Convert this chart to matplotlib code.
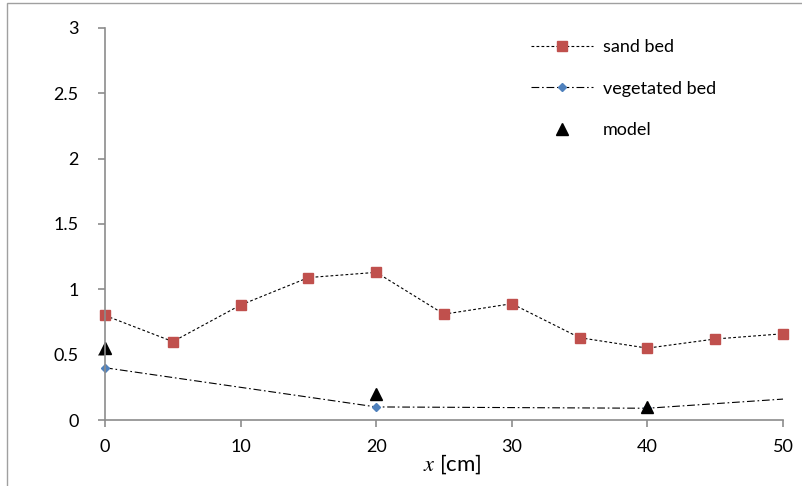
import matplotlib
matplotlib.use("Agg")
import matplotlib.pyplot as plt
from matplotlib.patches import Rectangle

# data
sand_x = [0, 5, 10, 15, 20, 25, 30, 35, 40, 45, 50]
sand_y = [0.80, 0.60, 0.88, 1.09, 1.13, 0.81, 0.89, 0.63, 0.55, 0.62, 0.66]

veg_x = [0, 20, 40, 50]
veg_y = [0.40, 0.10, 0.09, 0.16]

model_x = [0, 20, 40]
model_y = [0.55, 0.20, 0.10]

x_ticks = [0, 10, 20, 30, 40, 50]
y_ticks = [0, 0.5, 1, 1.5, 2, 2.5, 3]
y_tick_labels = ["0", "0.5", "1", "1.5", "2", "2.5", "3"]

plt.rcParams['font.family'] = ['Lato', 'DejaVu Sans']
plt.rcParams['mathtext.fontset'] = 'stix'

fig = plt.figure(figsize=(8.03, 4.86), dpi=100)
ax = fig.add_axes([0.1308, 0.1358, 0.8443, 0.8066])

# chart frame (only left and top edges visible in the crop)
fig.patches.append(Rectangle((7 / 803, -0.1), 1.2, 1 - 3 / 486 + 0.1,
                             transform=fig.transFigure, fill=False,
                             edgecolor='#a0a0a0', linewidth=1.0))

ax.plot(sand_x, sand_y, color='black', linewidth=0.8, linestyle=(0, (2.5, 2)),
        marker='s', markersize=6.5, markerfacecolor='#C0504D',
        markeredgecolor='#C0504D', label='sand bed', clip_on=False)
ax.plot(veg_x, veg_y, color='black', linewidth=0.8,
        linestyle=(0, (7, 2.5, 1.5, 2.5)), marker='D', markersize=4.5,
        markerfacecolor='#4F81BD', markeredgecolor='#4F81BD',
        markevery=[0, 1, 2], label='vegetated bed', clip_on=False)
ax.plot(model_x, model_y, linestyle='none', marker='^', markersize=8.5,
        color='black', label='model', clip_on=False)

ax.set_xlim(0, 50)
ax.set_ylim(0, 3)
ax.set_xticks(x_ticks)
ax.set_yticks(y_ticks)
ax.set_yticklabels(y_tick_labels)

for s in ['top', 'right']:
    ax.spines[s].set_visible(False)
for s in ['left', 'bottom']:
    ax.spines[s].set_color('#8c8c8c')
    ax.spines[s].set_linewidth(1.2)
ax.tick_params(axis='both', colors='#8c8c8c', length=5, width=1.2,
               labelsize=13, labelcolor='black')
ax.tick_params(axis='x', pad=9)
ax.tick_params(axis='y', pad=14)

ax.set_xlabel('$x$ [cm]', fontsize=16)
ax.xaxis.set_label_coords(0.512, -0.083)

ax.legend(loc='upper left', bbox_to_anchor=(0.618, 0.99), frameon=False,
          fontsize=13, handlelength=3.4, handletextpad=0.55,
          labelspacing=1.42, borderaxespad=0)

fig.savefig('out.png', dpi=100)
